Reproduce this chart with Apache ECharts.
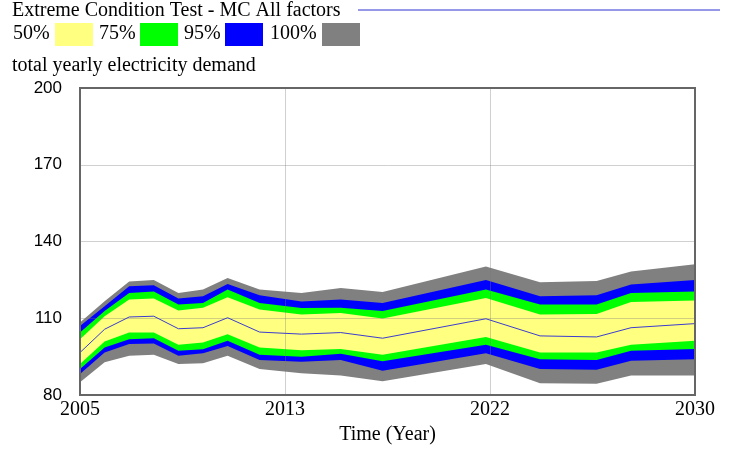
<!DOCTYPE html>
<html>
<head>
<meta charset="utf-8">
<script src="https://cdn.jsdelivr.net/npm/echarts@6/dist/echarts.min.js"></script>
<style>
  html, body { margin: 0; padding: 0; background: #fff; }
  #chart { width: 730px; height: 450px; }
</style>
</head>
<body>
<div id="chart"></div>
<script>
// time points (year) where the simulated bands bend
var years = [2005, 2006, 2007, 2008, 2009, 2010, 2011, 2012.3, 2014, 2015.6, 2017.3, 2021.5, 2023.7, 2026, 2027.4, 2030];

// confidence bounds of total yearly electricity demand
var p100Hi = [108.3, 116.6, 124.4, 125.0, 119.9, 121.2, 125.7, 121.2, 119.9, 121.8, 120.3, 130.2, 124.1, 124.6, 128.3, 131.1];
var p95Hi  = [107.0, 114.7, 122.5, 122.9, 117.7, 118.6, 123.4, 119.0, 116.5, 117.3, 116.0, 125.0, 118.6, 119.0, 123.2, 125.0];
var p75Hi  = [104.4, 112.8, 119.9, 120.5, 115.4, 116.0, 121.2, 116.0, 114.0, 114.1, 112.8, 121.2, 115.4, 115.4, 119.9, 120.5];
var p50Hi  = [101.8, 110.8, 117.3, 117.7, 113.0, 114.1, 118.2, 113.4, 111.5, 112.1, 109.9, 117.9, 111.5, 111.7, 116.4, 116.9];
var median = [96.6, 105.7, 110.5, 110.8, 105.9, 106.3, 110.2, 104.6, 103.8, 104.4, 102.2, 109.8, 103.1, 102.7, 106.3, 107.9];
var p50Lo  = [92.1, 100.9, 104.4, 104.4, 99.6, 100.5, 103.7, 98.6, 97.5, 98.0, 95.7, 102.7, 96.6, 96.6, 99.6, 101.2];
var p75Lo  = [90.2, 98.6, 101.8, 102.2, 97.3, 97.9, 101.2, 95.7, 95.0, 96.1, 93.2, 99.6, 94.0, 93.7, 97.3, 98.0];
var p95Lo  = [88.2, 96.6, 99.9, 100.1, 95.3, 96.3, 99.2, 93.7, 93.0, 93.7, 89.5, 96.3, 90.2, 89.9, 93.4, 94.0];
var p100Lo = [85.0, 92.8, 95.3, 95.7, 92.1, 92.4, 95.3, 90.2, 88.5, 87.6, 85.4, 92.1, 84.6, 84.4, 87.6, 87.6];

var yTicks = [80, 110, 140, 170, 200];
var bandNames = ['50%', '75%', '95%', '100%'];
var bandColors = ['#ffff80', '#00ff00', '#0000ff', '#808080'];

var START = 2005, END = 2030;

var myChart = echarts.init(document.getElementById('chart'));

function pts(arr) {
    var out = [];
    for (var i = 0; i < arr.length; i++) {
        out.push([years[i] - START, arr[i]]);
    }
    return out;
}

// one filled polygon between lo and hi, drawn through the axes
function band(name, lo, hi, color, z) {
    return {
        name: name,
        type: 'custom',
        z: z,
        silent: true,
        encode: { x: 0, y: 1 },
        data: pts(hi),
        renderItem: function (params, api) {
            if (params.dataIndex !== 0) return;
            var poly = [];
            for (var i = 0; i < years.length; i++) {
                poly.push(api.coord([years[i] - START, hi[i]]));
            }
            for (var j = years.length - 1; j >= 0; j--) {
                poly.push(api.coord([years[j] - START, lo[j]]));
            }
            return { type: 'polygon', shape: { points: poly }, style: { fill: color } };
        }
    };
}

// legend drawn like the Vensim header
var serif = '20px "Liberation Serif"';
var legendGraphics = [
    { type: 'text', left: 12, top: 1, style: { text: 'Extreme Condition Test - MC All factors', font: serif, fill: '#000' } },
    { type: 'line', shape: { x1: 358, y1: 10, x2: 720, y2: 10 }, style: { stroke: '#3030d0', lineWidth: 1 } },
    { type: 'text', left: 12, top: 56, style: { text: 'total yearly electricity demand', font: serif, fill: '#000' } }
];
var legX = [13, 99, 184, 270];
var boxX = [55, 140, 225, 322];
for (var i = 0; i < bandNames.length; i++) {
    legendGraphics.push({ type: 'text', left: legX[i], top: 24, style: { text: bandNames[i], font: serif, fill: '#000' } });
    legendGraphics.push({ type: 'rect', shape: { x: boxX[i], y: 23, width: 38, height: 23 }, style: { fill: bandColors[i] } });
}

var option = {
    animation: false,
    backgroundColor: '#fff',
    grid: {
        left: 80,
        right: 35,
        top: 88,
        bottom: 52,
        show: true,
        z: 10,
        backgroundColor: 'transparent',
        borderColor: '#666',
        borderWidth: 2
    },
    graphic: legendGraphics,
    xAxis: {
        type: 'value',
        min: 0,
        max: END - START,
        interval: (END - START) / 3,
        z: 5,
        name: 'Time (Year)',
        nameLocation: 'middle',
        nameGap: 30,
        nameTextStyle: { fontFamily: 'Liberation Serif', fontSize: 20, color: '#000' },
        axisLine: { show: false },
        axisTick: { show: false },
        axisLabel: {
            color: '#000',
            fontFamily: 'Liberation Serif',
            fontSize: 20,
            margin: 5,
            showMinLabel: true,
            showMaxLabel: true,
            formatter: function (v) { return Math.round(START + v); }
        },
        splitLine: { show: true, lineStyle: { color: 'rgba(120,120,120,0.35)', width: 1 } }
    },
    yAxis: {
        type: 'value',
        min: yTicks[0],
        max: yTicks[yTicks.length - 1],
        interval: yTicks[1] - yTicks[0],
        z: 5,
        axisLine: { show: false },
        axisTick: { show: false },
        axisLabel: { color: '#000', fontFamily: 'Liberation Sans', fontSize: 17, margin: 18 },
        splitLine: { show: true, lineStyle: { color: 'rgba(120,120,120,0.35)', width: 1 } }
    },
    series: [
        band('100%', p100Lo, p100Hi, bandColors[3], 1),
        band('95%', p95Lo, p95Hi, bandColors[2], 2),
        band('75%', p75Lo, p75Hi, bandColors[1], 3),
        band('50%', p50Lo, p50Hi, bandColors[0], 4),
        {
            name: 'median',
            type: 'line',
            symbol: 'none',
            z: 6,
            lineStyle: { color: '#3c3cd0', width: 1 },
            data: pts(median)
        }
    ]
};
myChart.setOption(option);
</script>
</body>
</html>
